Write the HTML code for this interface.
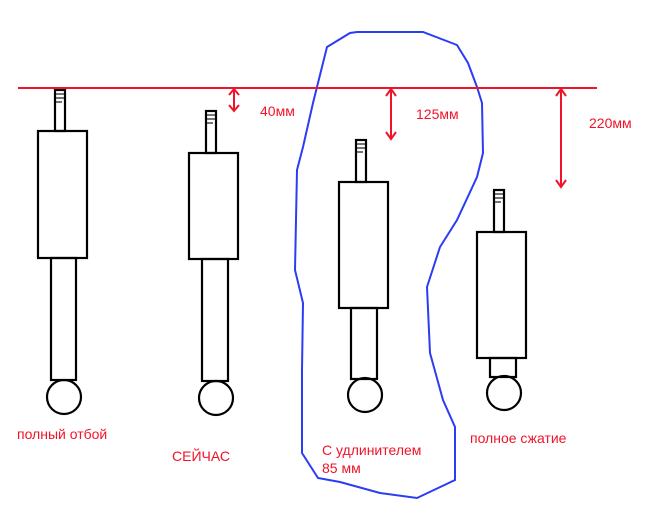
<!DOCTYPE html>
<html><head><meta charset="utf-8"><style>html,body{margin:0;padding:0;background:#fff;}svg{display:block}</style></head>
<body>
<svg width="655" height="511" viewBox="0 0 655 511" xmlns="http://www.w3.org/2000/svg">
<g fill="none" stroke="#000" stroke-width="2.2">
<rect x="55" y="90" width="10" height="41"/><rect x="38" y="131" width="49" height="127"/><rect x="51" y="258" width="25" height="122"/><circle cx="64" cy="397" r="17"/>
<rect x="206" y="111" width="10" height="42"/><rect x="189" y="153" width="49" height="106"/><rect x="202" y="259" width="26" height="122"/><circle cx="216" cy="398" r="17"/>
<rect x="356" y="140" width="10" height="42"/><rect x="339" y="182" width="49" height="126"/><rect x="351" y="308" width="26" height="71"/><circle cx="365" cy="395" r="17"/>
<rect x="494" y="190" width="10" height="42"/><rect x="477" y="232" width="49" height="126"/><rect x="490" y="358" width="26" height="19"/><circle cx="504" cy="393" r="17"/>
</g>
<g stroke="#444" stroke-width="1.5">
<line x1="56" y1="94" x2="64" y2="94"/><line x1="56" y1="98" x2="64" y2="98"/><line x1="56" y1="102" x2="62" y2="102"/>
<line x1="207" y1="115" x2="215" y2="115"/><line x1="207" y1="119" x2="215" y2="119"/><line x1="207" y1="123" x2="213" y2="123"/>
<line x1="357" y1="144" x2="365" y2="144"/><line x1="357" y1="148" x2="365" y2="148"/><line x1="357" y1="152" x2="363" y2="152"/>
<line x1="495" y1="194" x2="503" y2="194"/><line x1="495" y1="198" x2="503" y2="198"/><line x1="495" y1="202" x2="501" y2="202"/>
</g>
<path d="M357,32 L423,32 L457,45 L468,63 L477,87 L482,103 L483,153 L477,177 L457,220 L440,247 L427,287 L430,353 L443,400 L455,427 L455,480 L417,498 L380,493 L340,482 L318,478 L302,453 L302,370 L303,303 L295,270 L297,170 L303,147 L313,103 L322,67 L327,47 L350,33 Z" fill="none" stroke="#2b3cf5" stroke-width="2"/>
<g stroke="#f0142a" stroke-width="2" fill="none">
<line x1="18" y1="88" x2="597" y2="88"/>
<line x1="234" y1="89" x2="234" y2="111"/><path d="M229,95 L234,89 L239,95 M229,105 L234,111 L239,105"/>
<line x1="391" y1="89" x2="391" y2="139"/><path d="M386,96 L391,89 L396,96 M386,132 L391,139 L396,132"/>
<line x1="561" y1="89" x2="561" y2="187"/><path d="M556,96 L561,89 L566,96 M556,180 L561,187 L566,180"/>
</g>
<g fill="#f0142a" font-family="Liberation Sans, sans-serif" font-size="14">
<text x="260" y="116">40мм</text>
<text x="416" y="119">125мм</text>
<text x="589" y="128">220мм</text>
<text x="17" y="439">полный отбой</text>
<text x="172" y="461">СЕЙЧАС</text>
<text x="322" y="455">С удлинителем</text>
<text x="322" y="473">85 мм</text>
<text x="470" y="443">полное сжатие</text>
</g>
</svg>
</body></html>
